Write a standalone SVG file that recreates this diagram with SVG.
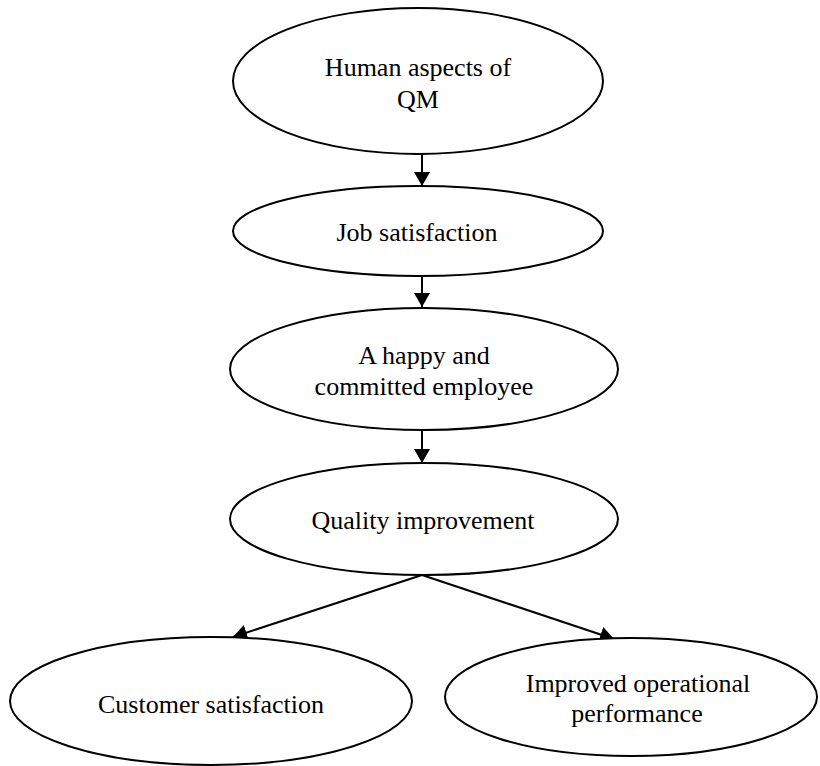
<svg xmlns="http://www.w3.org/2000/svg" width="820" height="766" viewBox="0 0 820 766">
  <style>
    .node ellipse { fill: #ffffff; stroke: #000000; stroke-width: 2; }
    .node text { font-family: "Liberation Serif", "Times New Roman", serif; font-size: 26px; fill: #000000; text-anchor: middle; }
    .edge { stroke: #000000; stroke-width: 2; fill: none; marker-end: url(#arrow); }
  </style>
  <defs>
    <marker id="arrow" viewBox="0 0 14 16" refX="14" refY="8" markerWidth="14" markerHeight="16" markerUnits="userSpaceOnUse" orient="auto">
      <path d="M0,0 L14,8 L0,16 Z" fill="#000000"/>
    </marker>
  </defs>

  <rect width="820" height="766" fill="#ffffff"/>

  <g id="connectors">
    <line class="edge" x1="422" y1="154" x2="422" y2="186"/>
    <line class="edge" x1="422" y1="276" x2="422" y2="307"/>
    <line class="edge" x1="422" y1="430" x2="422" y2="463"/>
    <line class="edge" x1="422" y1="575" x2="233" y2="637"/>
    <line class="edge" x1="422" y1="575" x2="614" y2="639"/>
  </g>

  <g id="human-aspects" class="node">
    <ellipse cx="418" cy="81" rx="185" ry="73"/>
    <text x="418" y="76">Human aspects of</text>
    <text x="418" y="108">QM</text>
  </g>

  <g id="job-satisfaction" class="node">
    <ellipse cx="418" cy="231" rx="185" ry="45"/>
    <text x="417" y="241">Job satisfaction</text>
  </g>

  <g id="happy-employee" class="node">
    <ellipse cx="424" cy="369" rx="194" ry="61"/>
    <text x="424" y="364">A happy and</text>
    <text x="424" y="395">committed employee</text>
  </g>

  <g id="quality-improvement" class="node">
    <ellipse cx="424" cy="519" rx="194" ry="56"/>
    <text x="423" y="529">Quality improvement</text>
  </g>

  <g id="customer-satisfaction" class="node">
    <ellipse cx="211" cy="701" rx="201" ry="64"/>
    <text x="211" y="713">Customer satisfaction</text>
  </g>

  <g id="operational-performance" class="node">
    <ellipse cx="631" cy="697" rx="186" ry="59"/>
    <text x="638" y="692">Improved operational</text>
    <text x="637" y="722">performance</text>
  </g>
</svg>
